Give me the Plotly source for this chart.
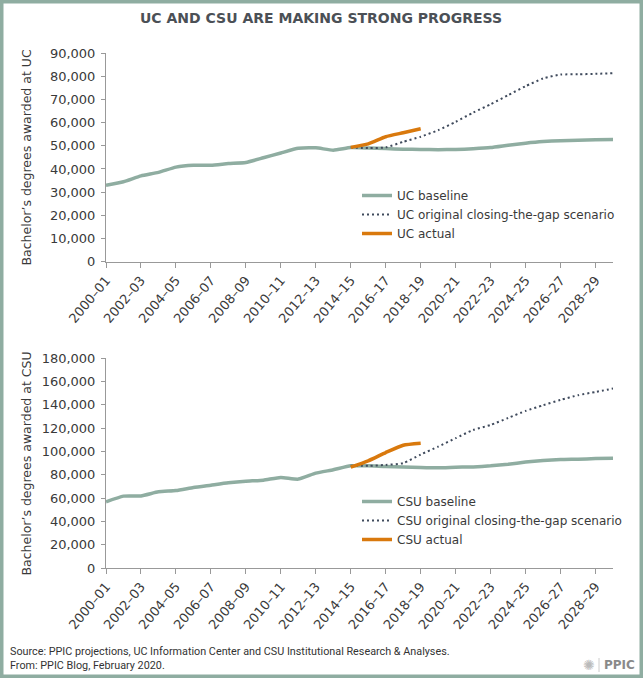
import plotly.graph_objects as go

years = ["2000–01", "2001–02", "2002–03", "2003–04", "2004–05", "2005–06", "2006–07", "2007–08",
         "2008–09", "2009–10", "2010–11", "2011–12", "2012–13", "2013–14", "2014–15", "2015–16",
         "2016–17", "2017–18", "2018–19", "2019–20", "2020–21", "2021–22", "2022–23", "2023–24",
         "2024–25", "2025–26", "2026–27", "2027–28", "2028–29", "2029–30"]

uc_baseline = [33000, 34500, 37000, 38500, 40800, 41600, 41600, 42300, 42800, 44800,
               46900, 48900, 49100, 48100, 49200, 49000, 48800, 48500, 48400, 48300,
               48400, 48700, 49200, 50200, 51100, 51800, 52200, 52400, 52600, 52700]
uc_scenario = [None] * 14 + [49200, 49000, 49300, 51700, 53900, 56700, 60300, 64300,
                             67900, 71800, 75700, 79000, 80700, 80800, 81000, 81300]
uc_actual = [None] * 14 + [49300, 50800, 53900, 55600, 57300] + [None] * 11

csu_baseline = [56800, 61700, 61900, 65400, 66500, 69100, 71100, 73100, 74500, 75400,
                77700, 76300, 81400, 84300, 87700, 87700, 87100, 86800, 86300, 86000,
                86500, 86800, 87700, 89100, 90900, 92200, 93100, 93400, 93900, 94200]
csu_scenario = [None] * 14 + [87700, 87700, 88500, 90000, 97400, 104200, 111400, 118500,
                              122800, 128800, 134800, 139700, 144300, 148300, 151100, 154000]
csu_actual = [None] * 14 + [86600, 92000, 99100, 105400, 107100] + [None] * 11

tick_years = years[::2]

GREEN = "#8fada1"
NAVY = "#3f4a5c"
ORANGE = "#d9790d"
TEXT = "#3a3a3a"
FONT = "DejaVu Sans"
FOOT_FONT = "Roboto"

W, H = 643, 678
ML, MR, MT, MB = 106, 30, 53, 110
PW, PH = W - ML - MR, H - MT - MB


def px_x(px):
    return (px - ML) / PW


def px_y(py):
    return 1 - (py - MT) / PH


fig = go.Figure()


def add_series(xaxis, yaxis, legend, name_prefix, base, scen, act):
    fig.add_trace(go.Scatter(x=years, y=base, name=f"{name_prefix} baseline", mode="lines",
                             line=dict(color=GREEN, width=3.5, shape="spline", smoothing=0.5),
                             xaxis=xaxis, yaxis=yaxis, legend=legend, hoverinfo="skip"))
    fig.add_trace(go.Scatter(x=years, y=scen, name=f"{name_prefix} original closing-the-gap scenario",
                             mode="lines",
                             line=dict(color=NAVY, width=2, dash="2px,3px", shape="spline", smoothing=0.5),
                             xaxis=xaxis, yaxis=yaxis, legend=legend, hoverinfo="skip"))
    fig.add_trace(go.Scatter(x=years, y=act, name=f"{name_prefix} actual", mode="lines",
                             line=dict(color=ORANGE, width=3.5, shape="spline", smoothing=0.5),
                             xaxis=xaxis, yaxis=yaxis, legend=legend, hoverinfo="skip"))


add_series("x", "y", "legend", "UC", uc_baseline, uc_scenario, uc_actual)
add_series("x2", "y2", "legend2", "CSU", csu_baseline, csu_scenario, csu_actual)

top_lo = px_y(261.7)
bot_hi = px_y(358.3)

xcommon = dict(type="category", categoryorder="array", categoryarray=years,
               range=[0, 29], tickmode="array", tickvals=tick_years, ticktext=tick_years,
               tickangle=-50, ticks="outside", ticklen=5, tickcolor="#999999",
               showline=True, linecolor="#999999", linewidth=1, showgrid=False, zeroline=False,
               tickfont=dict(family=FONT, size=13, color=TEXT), domain=[0, 1])
ycommon = dict(ticks="outside", ticklen=4, tickcolor="#999999", showline=True,
               linecolor="#999999", linewidth=1, showgrid=False, zeroline=False,
               tickformat=",", tickfont=dict(family=FONT, size=13, color=TEXT),
               ticklabelstandoff=3)

fig.update_layout(
    xaxis=dict(anchor="y", **xcommon),
    xaxis2=dict(anchor="y2", **xcommon),
    yaxis=dict(anchor="x", domain=[top_lo, 1], range=[0, 90000], dtick=10000, **ycommon),
    yaxis2=dict(anchor="x2", domain=[0, bot_hi], range=[0, 180000], dtick=20000, **ycommon),
    width=W, height=H,
    margin=dict(l=ML, r=MR, t=MT, b=MB),
    paper_bgcolor="white", plot_bgcolor="white",
    legend=dict(x=px_x(357), y=px_y(181), xanchor="left", yanchor="top",
                font=dict(family=FONT, size=12, color=TEXT), bgcolor="rgba(0,0,0,0)",
                itemwidth=30, tracegroupgap=0),
    legend2=dict(x=px_x(357), y=px_y(487), xanchor="left", yanchor="top",
                 font=dict(family=FONT, size=12, color=TEXT), bgcolor="rgba(0,0,0,0)",
                 itemwidth=30, tracegroupgap=0),
    showlegend=True,
)

annotations = [
    dict(text="UC AND CSU ARE MAKING STRONG PROGRESS", x=px_x(321), y=px_y(18),
         xref="paper", yref="paper", xanchor="center", yanchor="middle", showarrow=False,
         font=dict(family=FONT, size=14, color="#4b5056", weight=700)),
    dict(text="Bachelor’s degrees awarded at UC", x=px_x(26), y=px_y(157.5),
         xref="paper", yref="paper", xanchor="center", yanchor="middle", showarrow=False,
         textangle=-90, font=dict(family=FONT, size=12.5, color=TEXT)),
    dict(text="Bachelor’s degrees awarded at CSU", x=px_x(26), y=px_y(463.5),
         xref="paper", yref="paper", xanchor="center", yanchor="middle", showarrow=False,
         textangle=-90, font=dict(family=FONT, size=12.5, color=TEXT)),
    dict(text="Source: PPIC projections, UC Information Center and CSU Institutional Research &amp; Analyses.",
         x=px_x(8), y=px_y(651), xref="paper", yref="paper", xanchor="left", yanchor="middle",
         showarrow=False, font=dict(family=FOOT_FONT, size=10.8, color="#333333")),
    dict(text="From: PPIC Blog, February 2020.",
         x=px_x(8), y=px_y(665), xref="paper", yref="paper", xanchor="left", yanchor="middle",
         showarrow=False, font=dict(family=FOOT_FONT, size=10.8, color="#333333")),
    dict(text="✺", x=px_x(589), y=px_y(665), xref="paper", yref="paper", xanchor="center",
         yanchor="middle", showarrow=False, font=dict(family=FONT, size=14, color="#bbbbbb")),
    dict(text="<b>PPIC</b>", x=px_x(602), y=px_y(665), xref="paper", yref="paper", xanchor="left",
         yanchor="middle", showarrow=False, font=dict(family=FONT, size=12, color="#8a8a8a")),
]
fig.update_layout(annotations=annotations)

fig.update_layout(shapes=[
    dict(type="rect", xref="paper", yref="paper", x0=px_x(1.75), x1=px_x(641.25),
         y0=px_y(1.75), y1=px_y(676.25), line=dict(color=GREEN, width=3.5), fillcolor="rgba(0,0,0,0)",
         layer="above"),
    dict(type="line", xref="paper", yref="paper", x0=px_x(599), x1=px_x(599),
         y0=px_y(658), y1=px_y(672), line=dict(color="#cccccc", width=1)),
])

fig.write_html("out.html")
